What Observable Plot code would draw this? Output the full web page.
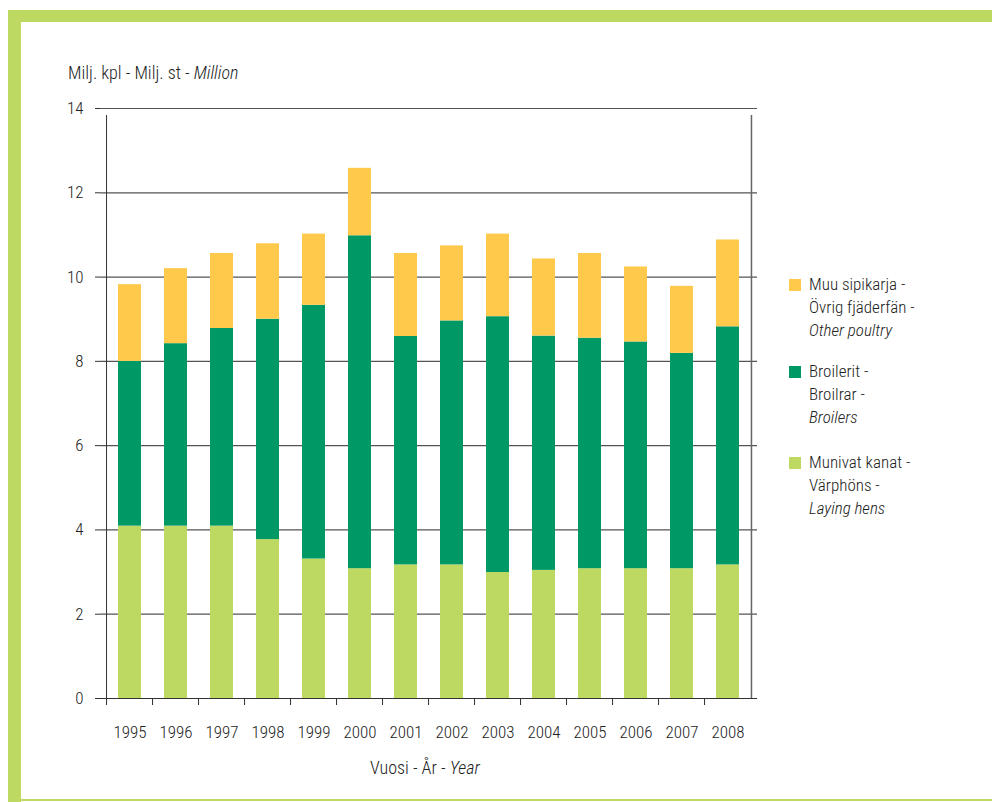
<!DOCTYPE html>
<html>
<head>
<meta charset="utf-8">
<script src="https://cdn.jsdelivr.net/npm/d3@7"></script>
<script src="https://cdn.jsdelivr.net/npm/@observablehq/plot@0.6"></script>
<style>
  html, body { margin: 0; padding: 0; background: #fff; }
  #wrap { position: relative; width: 992px; height: 802px; overflow: hidden;
    font-family: "Roboto Condensed", "Liberation Sans", sans-serif; font-weight: 300; color: #222; }
  .frame { position: absolute; background: #BED961; }
  .txt { position: absolute; white-space: nowrap; font-size: 17px; line-height: 23px; }
  .sw { position: absolute; width: 12px; height: 12px; }
  #chart { position: absolute; left: 0; top: 0; }
</style>
</head>
<body>
<div id="wrap">
  <div id="chart"></div>
  <div class="frame" style="left:8px;top:10px;width:984px;height:12px;"></div>
  <div class="frame" style="left:8px;top:10px;width:13px;height:792px;"></div>
  <div class="frame" style="left:8px;top:799px;width:984px;height:2px;"></div>
  <div class="txt" style="left:68px;top:61px;font-size:18px;">Milj. kpl - Milj. st - <i>Million</i></div>
  <div class="txt" style="left:370px;top:756px;font-size:18px;">Vuosi - År - <i>Year</i></div>
  <div id="legend"></div>
</div>
<script>
const years = ["1995","1996","1997","1998","1999","2000","2001","2002","2003","2004","2005","2006","2007","2008"];
const layingHens = [4.09, 4.09, 4.09, 3.77, 3.31, 3.08, 3.17, 3.17, 2.99, 3.04, 3.08, 3.08, 3.08, 3.17];
const broilers   = [3.91, 4.33, 4.69, 5.23, 6.02, 7.90, 5.42, 5.79, 6.07, 5.56, 5.47, 5.38, 5.11, 5.65];
const otherPoultry = [1.82, 1.78, 1.78, 1.79, 1.69, 1.60, 1.97, 1.78, 1.96, 1.83, 2.01, 1.78, 1.59, 2.06];
const seriesNames = ["Munivat kanat", "Broilerit", "Muu sipikarja"];
const seriesColors = ["#BED961", "#009966", "#FFCA4B"];
const legendLabels = [
  ["Muu sipikarja -", "Övrig fjäderfän -", "Other poultry"],
  ["Broilerit -", "Broilrar -", "Broilers"],
  ["Munivat kanat -", "Värphöns -", "Laying hens"]
];
const yTicks = [0, 2, 4, 6, 8, 10, 12, 14];

const seriesValues = [layingHens, broilers, otherPoultry];
const data = [];
years.forEach((y, i) => {
  seriesValues.forEach((vals, s) => data.push({year: y, series: seriesNames[s], value: vals[i]}));
});

const W = 992, H = 802;
const mL = 100, mR = 235, mT = 108, mB = 104;
const step = (W - mL - mR) / years.length;
const font = "\"Roboto Condensed\", \"Liberation Sans\", sans-serif";

const chart = Plot.plot({
  width: W, height: H,
  marginLeft: mL, marginRight: mR, marginTop: mT, marginBottom: mB,
  style: {fontFamily: font, fontSize: "17px", fontWeight: 300, color: "#222", background: "transparent"},
  x: {domain: years, paddingInner: 0.5, paddingOuter: 0.25, label: null},
  y: {domain: [0, 14], label: null},
  color: {domain: seriesNames, range: seriesColors},
  marks: [
    Plot.gridY(yTicks, {stroke: "#555", strokeOpacity: 1, strokeWidth: 1.2}),
    Plot.barY(data, Plot.stackY({x: "year", y: "value", fill: "series", order: null})),
    Plot.ruleY([0], {stroke: "#333", strokeWidth: 1}),
    Plot.ruleX([years[0]], {dx: -step / 2, y1: 0, y2: 14, stroke: "#333", insetBottom: -7}),
    Plot.ruleX([years[years.length - 1]], {dx: step / 2, y1: 0, y2: 14, stroke: "#666", strokeWidth: 1.5, insetBottom: -7}),
    Plot.axisY({ticks: yTicks, tickSize: 5, tickPadding: 12, stroke: "#333", fontSize: 17, fill: "#222"}),
    Plot.axisX({tickSize: 7, tickFormat: () => "", dx: -step / 2, stroke: "#333"}),
    Plot.axisX({tickSize: 0, tickPadding: 27, fontSize: 17, fill: "#222"})
  ]
});
document.getElementById("chart").appendChild(chart);

const legend = document.getElementById("legend");
const legendTops = [273, 360, 451];
const legendColorIdx = [2, 1, 0];
legendLabels.forEach((lines, k) => {
  const sw = document.createElement("div");
  sw.className = "sw";
  sw.style.left = "789px";
  sw.style.top = (legendTops[k] + 6) + "px";
  sw.style.background = seriesColors[legendColorIdx[k]];
  legend.appendChild(sw);
  const t = document.createElement("div");
  t.className = "txt";
  t.style.left = "809px";
  t.style.top = legendTops[k] + "px";
  t.style.fontSize = "17px";
  t.innerHTML = lines[0] + "<br>" + lines[1] + "<br><i>" + lines[2] + "</i>";
  legend.appendChild(t);
});
</script>
</body>
</html>
